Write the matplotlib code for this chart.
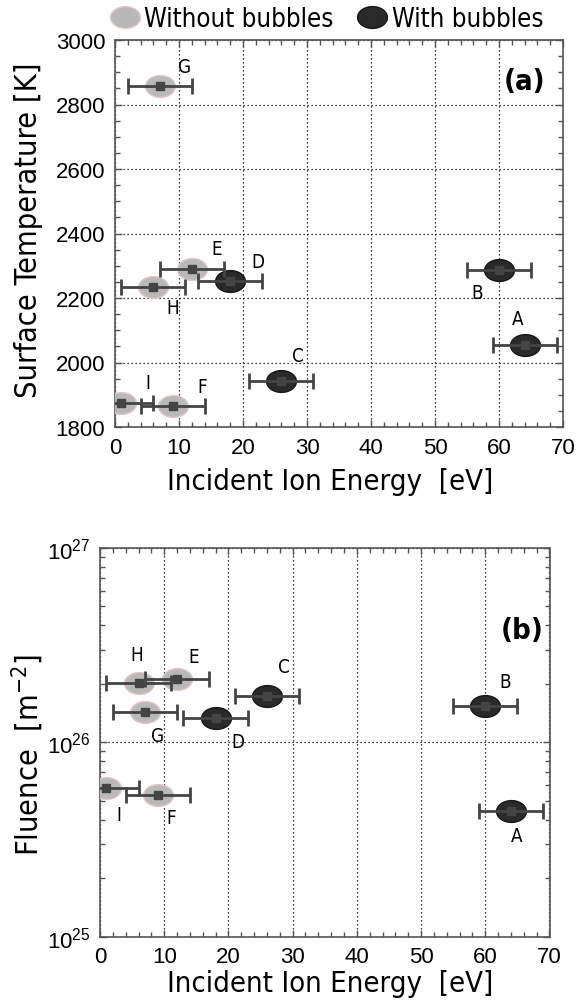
import matplotlib
matplotlib.use('Agg')
import matplotlib.pyplot as plt
from matplotlib import font_manager
from matplotlib.path import Path
from matplotlib.transforms import Affine2D
from matplotlib.lines import Line2D
from matplotlib.ticker import MultipleLocator, FixedLocator, FixedFormatter, LogLocator, NullFormatter

# ---------------- data ----------------
labels = ['A', 'B', 'C', 'D', 'E', 'F', 'G', 'H', 'I']
with_bubbles = [True, True, True, True, False, False, False, False, False]
energy_a = [64, 60, 26, 18, 12, 9, 7, 6, 1]
energy_err_a = [5, 5, 5, 5, 5, 5, 5, 5, 5]
temperature = [2054, 2287, 1943, 2252, 2290, 1865, 2856, 2235, 1873]
energy_b = [64, 60, 26, 18, 12, 9, 7, 6, 1]
energy_err_b = [5, 5, 5, 5, 5, 5, 5, 5, 5]
fluence = [4.45e25, 1.53e26, 1.73e26, 1.33e26, 2.12e26, 5.36e25, 1.44e26, 2.01e26, 5.82e25]
temp_ticks = [1800, 2000, 2200, 2400, 2600, 2800, 3000]
energy_ticks = [0, 10, 20, 30, 40, 50, 60, 70]
fluence_ticks = [1e25, 1e26, 1e27]
fluence_ticklabels = [r'$\mathregular{10^{25}}$', r'$\mathregular{10^{26}}$', r'$\mathregular{10^{27}}$']
legend_labels = ['Without bubbles', 'With bubbles']

# label offsets (points) for the letters
off_a = {'A': (-5, 19), 'B': (-16, -16), 'C': (12, 18), 'D': (20, 14), 'E': (18, 15),
         'F': (21, 14), 'G': (18, 14), 'H': (14, -15), 'I': (19, 15)}
off_b = {'A': (4, -18), 'B': (14, 18), 'C': (12, 21), 'D': (16, -17), 'E': (12, 16),
         'F': (10, -16), 'G': (9, -17), 'H': (-1, 21), 'I': (9, -19)}


def condensed_file(bold=False):
    wanted = ('Liberation Sans Narrow', 'Arial Narrow', 'DejaVu Sans', 'Noto Sans')
    for name in wanted:
        for f in font_manager.fontManager.ttflist:
            if f.name != name or f.style != 'normal':
                continue
            if str(f.stretch) not in ('condensed', 'semi-condensed', 'extra-condensed'):
                continue
            w = f.weight if isinstance(f.weight, int) else font_manager.weight_dict.get(f.weight, 400)
            if (bold and w >= 600) or (not bold and w == 400):
                return f.fname
    return None


REG_FILE = condensed_file(False)
BOLD_FILE = condensed_file(True) or REG_FILE


def fp(size, bold=False):
    fn = BOLD_FILE if bold else REG_FILE
    if fn:
        return font_manager.FontProperties(fname=fn, size=size)
    return font_manager.FontProperties(family='Noto Sans CJK JP', size=size,
                                       weight='bold' if bold else 'normal')


TICKF = 'Liberation Sans'

GRAY = '#b9b9b9'
GRAY_EDGE = '#e2c6c6'
DARK = '#2a2a2a'
DARK_EDGE = '#161616'
BAR = '#444444'

ell = Path.unit_circle().transformed(Affine2D().scale(1.0, 0.73))
ELL_MS = 21.5

fig = plt.figure(figsize=(5.78, 10.04), dpi=100)
W, H = 578, 1004
ax1 = fig.add_axes([115 / W, 1 - 428 / H, 448 / W, 387 / H])
ax2 = fig.add_axes([100 / W, 1 - 937.6 / H, 449.5 / W, 388.6 / H])


def draw(ax, xs, xe, ys, offs):
    for i, lab in enumerate(labels):
        fc = DARK if with_bubbles[i] else GRAY
        ec = DARK_EDGE if with_bubbles[i] else GRAY_EDGE
        ax.plot([xs[i]], [ys[i]], ls='none', marker=ell, ms=ELL_MS, mfc=fc, mec=ec,
                mew=1.0, zorder=3)
        ax.errorbar([xs[i]], [ys[i]], xerr=[xe[i]], fmt='s', ms=5.5, color=BAR,
                    mfc=BAR, mec=BAR, elinewidth=2.0, capsize=6, capthick=2.0, zorder=4)
        ax.annotate(lab, (xs[i], ys[i]), xytext=offs[lab], textcoords='offset points',
                    ha='center', va='center', fontproperties=fp(13.5), zorder=5)


def style(ax):
    for s in ax.spines.values():
        s.set_color('#555555')
        s.set_linewidth(1.2)
    ax.tick_params(which='both', direction='in', top=True, right=True, color='#555555')
    ax.tick_params(which='major', length=5, width=1, labelsize=16, pad=7,
                   labelfontfamily=TICKF)
    ax.tick_params(which='minor', length=3.5, width=1)
    ax.grid(True, which='major', ls=(0, (1, 2.2)), color='black', lw=0.9)
    ax.set_axisbelow(True)


# ---- panel (a)
draw(ax1, energy_a, energy_err_a, temperature, off_a)
ax1.set_xlim(0, 70)
ax1.set_ylim(1800, 3000)
ax1.xaxis.set_major_locator(FixedLocator(energy_ticks))
ax1.xaxis.set_minor_locator(MultipleLocator(2))
ax1.yaxis.set_major_locator(FixedLocator(temp_ticks))
ax1.yaxis.set_minor_locator(MultipleLocator(50))
style(ax1)
ax1.set_xlabel('Incident Ion Energy  [eV]', fontproperties=fp(21), va='center')
ax1.xaxis.set_label_coords(0.48, -0.1395)
ax1.set_ylabel('Surface Temperature [K]', fontproperties=fp(22), va='center')
ax1.yaxis.set_label_coords(-0.194, 0.512)
ax1.text(0.915, 0.894, '(a)', transform=ax1.transAxes, ha='center', va='center',
         fontproperties=fp(21, True))

# ---- panel (b)
draw(ax2, energy_b, energy_err_b, fluence, off_b)
ax2.set_yscale('log')
ax2.set_xlim(0, 70)
ax2.set_ylim(1e25, 1e27)
ax2.xaxis.set_major_locator(FixedLocator(energy_ticks))
ax2.xaxis.set_minor_locator(MultipleLocator(2))
ax2.yaxis.set_major_locator(FixedLocator(fluence_ticks))
ax2.yaxis.set_major_formatter(FixedFormatter(fluence_ticklabels))
ax2.yaxis.set_minor_locator(LogLocator(base=10, subs=range(2, 10)))
ax2.yaxis.set_minor_formatter(NullFormatter())
style(ax2)
ax2.set_xlabel('Incident Ion Energy  [eV]', fontproperties=fp(21), va='center')
ax2.xaxis.set_label_coords(0.512, -0.119)
ax2.set_ylabel(r'Fluence  [m$^{\mathregular{-2}}$]', fontproperties=fp(22), va='center')
ax2.yaxis.set_label_coords(-0.160, 0.47)
ax2.text(0.94, 0.79, '(b)', transform=ax2.transAxes, ha='center', va='center',
         fontproperties=fp(21, True))

# ---- legend
handles = [Line2D([], [], ls='none', marker=ell, ms=ELL_MS, mfc=GRAY, mec=GRAY_EDGE, mew=1.0),
           Line2D([], [], ls='none', marker=ell, ms=ELL_MS, mfc=DARK, mec=DARK_EDGE, mew=1.0)]
leg = fig.legend(handles, legend_labels, loc='center', bbox_to_anchor=(0.567, 0.980), ncol=2,
                 frameon=False, handlelength=1.0, handletextpad=0.25, columnspacing=1.0,
                 borderpad=0, prop=fp(18.5))

fig.savefig('out.png', dpi=100)
